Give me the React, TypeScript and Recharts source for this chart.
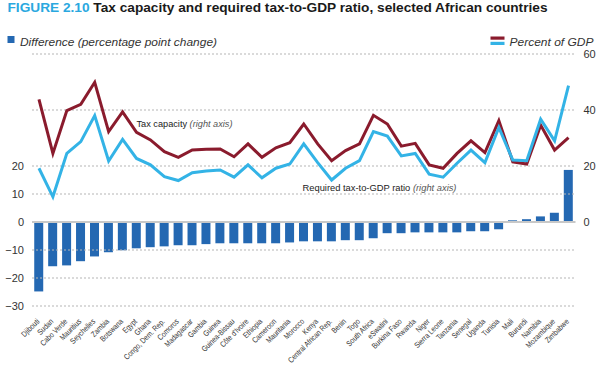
import React from 'react';
import { ComposedChart, Bar, Line, XAxis, YAxis, ReferenceLine } from 'recharts';

const countries = [
  'Djibouti', 'Sudan', 'Cabo Verde', 'Mauritius', 'Seychelles', 'Zambia', 'Botswana', 'Egypt', 'Ghana',
  'Congo, Dem. Rep.', 'Comoros', 'Madagascar', 'Gambia', 'Guinea', 'Guinea-Bissau', "Côte d'Ivoire",
  'Ethiopia', 'Cameroon', 'Mauritania', 'Morocco', 'Kenya', 'Central African Rep.', 'Benin', 'Togo',
  'South Africa', 'eSwatini', 'Burkina Faso', 'Rwanda', 'Niger', 'Sierra Leone', 'Tanzania', 'Senegal',
  'Uganda', 'Tunisia', 'Mali', 'Burundi', 'Namibia', 'Mozambique', 'Zimbabwe',
];

// percentage point change (left axis)
const difference = [
  -24.8, -15.8, -15.5, -14.0, -12.3, -10.8, -10.1, -9.4, -9.0, -8.7, -8.3, -8.3, -7.9, -7.6, -7.6, -7.6,
  -7.6, -7.6, -7.3, -6.9, -6.9, -6.9, -6.5, -6.5, -5.8, -4.0, -4.0, -3.7, -3.7, -3.7, -3.7, -3.3, -3.3,
  -2.6, 0.6, 1.0, 2.0, 3.3, 18.6,
];

// percent of GDP (right axis)
const taxCapacity = [
  43.8, 24.5, 39.8, 42.0, 49.9, 32.3, 39.3, 32.0, 29.3, 25.1, 23.1, 25.7, 26.0, 26.1, 23.3, 27.9, 23.1,
  26.5, 28.3, 35.0, 27.9, 21.9, 25.5, 27.9, 38.1, 35.0, 27.1, 28.1, 20.4, 19.2, 24.5, 29.0, 24.8, 36.2,
  21.5, 20.7, 34.6, 25.7, 30.1,
];

const requiredRatio = [
  19.2, 9.0, 24.5, 28.7, 38.0, 21.8, 29.5, 22.7, 20.4, 16.2, 14.8, 17.6, 18.2, 18.6, 16.0, 20.4, 15.8,
  19.2, 20.7, 27.9, 21.2, 15.0, 19.2, 21.9, 32.3, 30.7, 23.6, 24.5, 17.1, 16.0, 21.0, 25.7, 21.2, 33.8,
  22.1, 21.9, 36.7, 29.0, 48.7,
];

const leftTicks = [-30, -20, -10, 0, 10, 20];
const rightTicks = [0, 20, 40, 60];
const gridValues = [-30, -20, -10, 10, 20, 40, 60];

const data = countries.map((country, i) => ({
  country,
  difference: difference[i],
  taxCapacity: taxCapacity[i],
  requiredRatio: requiredRatio[i],
}));

const FONT = '"Liberation Sans", Arial, Helvetica, sans-serif';
const BAR_BLUE = '#2468b2';
const RED = '#8a1b2d';
const LIGHT_BLUE = '#33b3e6';

const fmt = (v: number) => (v < 0 ? `\u2212${-v}` : `${v}`);

// rotated, slightly condensed country names
const CountryTick = (props: any) => {
  const { x, y, payload } = props;
  return (
    <g transform={`translate(${x + 1},${y + 8}) rotate(-45) scale(0.82,1)`}>
      <text x={0} y={0} textAnchor="end" fontSize={8} fill="#333" fontFamily={FONT}>
        {payload.value}
      </text>
    </g>
  );
};

const App: React.FC = () => {
  return (
    <div style={{ position: 'relative', width: 600, height: 367, background: '#fff', fontFamily: FONT }}>
      <style>{'body{margin:0}'}</style>
      <ComposedChart
        width={600}
        height={367}
        data={data}
        margin={{ top: 54, right: 0, bottom: 0, left: 0 }}
        barCategoryGap="16%"
      >
        {gridValues.map((v) => (
          <ReferenceLine key={v} yAxisId="left" y={v} stroke="#b5b5b5" strokeDasharray="2 2" />
        ))}
        <ReferenceLine yAxisId="left" y={0} stroke="#c8c8c8" strokeWidth={2} />
        <XAxis
          dataKey="country"
          interval={0}
          tickLine={false}
          axisLine={false}
          height={61}
          tick={<CountryTick />}
        />
        <YAxis
          yAxisId="left"
          domain={[-30, 60]}
          ticks={leftTicks}
          tickFormatter={fmt}
          width={32}
          tickLine={false}
          axisLine={false}
          tick={{ fontSize: 11, fill: '#333', fontFamily: FONT }}
        />
        <YAxis
          yAxisId="right"
          orientation="right"
          domain={[-30, 60]}
          ticks={rightTicks}
          width={24.5}
          tickLine={false}
          axisLine={false}
          tick={{ fontSize: 11, fill: '#333', fontFamily: FONT, textAnchor: 'start' }}
        />
        <Bar yAxisId="left" dataKey="difference" fill={BAR_BLUE} isAnimationActive={false} />
        <Line
          yAxisId="right"
          dataKey="taxCapacity"
          stroke={RED}
          strokeWidth={3}
          dot={false}
          activeDot={false}
          isAnimationActive={false}
        />
        <Line
          yAxisId="right"
          dataKey="requiredRatio"
          stroke={LIGHT_BLUE}
          strokeWidth={3}
          dot={false}
          activeDot={false}
          isAnimationActive={false}
        />
      </ComposedChart>

      {/* title, legend and line labels */}
      <svg width={600} height={367} style={{ position: 'absolute', left: 0, top: 0, pointerEvents: 'none' }}>
        <text x={7.5} y={11.5} fontSize={13} fontWeight="bold" fontFamily={FONT} fill="#1a1a1a" textLength={540} lengthAdjust="spacingAndGlyphs">
          <tspan fill="#2aa8df">FIGURE 2.10</tspan> Tax capacity and required tax-to-GDP ratio, selected African countries
        </text>

        <rect x={7.5} y={36} width={7} height={7} fill={BAR_BLUE} />
        <text x={20} y={45.5} fontSize={11.5} fontStyle="italic" fontFamily={FONT} fill="#333" textLength={197} lengthAdjust="spacingAndGlyphs">
          Difference (percentage point change)
        </text>

        <rect x={490.5} y={36.5} width={14} height={3.2} fill={RED} />
        <rect x={490.5} y={41.8} width={14} height={3.2} fill={LIGHT_BLUE} />
        <text x={509.5} y={45.5} fontSize={11.5} fontStyle="italic" fontFamily={FONT} fill="#333" textLength={84} lengthAdjust="spacingAndGlyphs">
          Percent of GDP
        </text>

        <text x={136.5} y={126.5} fontSize={9} fontFamily={FONT} fill="#222" textLength={96} lengthAdjust="spacingAndGlyphs">
          Tax capacity <tspan fontStyle="italic" fill="#555">(right axis)</tspan>
        </text>
        <text x={302.5} y={190.5} fontSize={9} fontFamily={FONT} fill="#222" textLength={154} lengthAdjust="spacingAndGlyphs">
          Required tax-to-GDP ratio <tspan fontStyle="italic" fill="#555">(right axis)</tspan>
        </text>
      </svg>
    </div>
  );
};

export default App;
